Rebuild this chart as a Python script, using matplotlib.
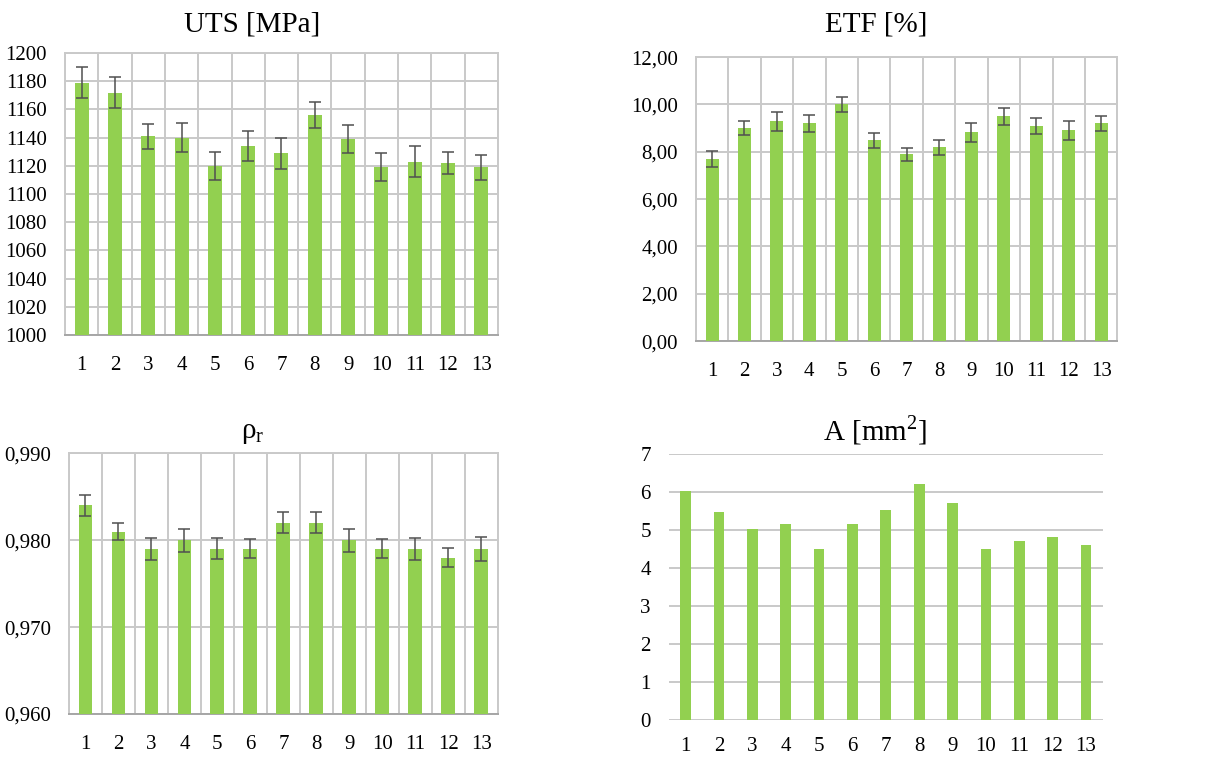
import matplotlib

matplotlib.use("Agg")
import matplotlib.pyplot as plt
import numpy as np
from matplotlib.ticker import FuncFormatter, MultipleLocator

# Sample numbers on the x axis
samples = list(range(1, 14))

# UTS [MPa] with standard deviation
uts = [1179, 1172, 1141, 1140, 1120, 1134, 1129, 1156, 1139, 1119, 1123, 1122, 1119]
uts_err = [11, 11, 9, 10.5, 10, 10.5, 11, 9, 10, 10, 11, 8, 9]

# ETF [%] with standard deviation
etf = [7.70, 9.00, 9.28, 9.20, 10.00, 8.48, 7.89, 8.18, 8.82, 9.49, 9.10, 8.90, 9.20]
etf_err = [0.33, 0.30, 0.39, 0.36, 0.32, 0.31, 0.26, 0.33, 0.39, 0.35, 0.33, 0.41, 0.33]

# relative density with standard deviation
rho = [0.984, 0.981, 0.979, 0.980, 0.979, 0.979, 0.982, 0.982, 0.980, 0.979, 0.979, 0.978, 0.979]
rho_err = [0.0012, 0.0010, 0.0013, 0.0013, 0.0012, 0.0011, 0.0012, 0.0012,
           0.0013, 0.0011, 0.0013, 0.0011, 0.0014]

# cross-section area [mm2]
area = [6.02, 5.48, 5.04, 5.17, 4.49, 5.15, 5.52, 6.20, 5.72, 4.51, 4.70, 4.81, 4.62]

BAR = "#92D050"
ERR = "#505050"
GRID = "#C9C9C9"

plt.rcParams.update({
    "font.family": ["Liberation Serif", "DejaVu Serif"],
    "font.size": 15,
    "mathtext.fontset": "custom",
    "mathtext.rm": "Liberation Serif",
    "xtick.major.size": 0,
    "ytick.major.size": 0,
    "xtick.major.pad": 15,
    "ytick.major.pad": 13,
})


def comma(dec):
    return FuncFormatter(lambda v, _: f"{v:.{dec}f}".replace(".", ","))


def boxed_panel(ax, values, errs, ylo, yhi, step, dec, width):
    ax.bar(samples, values, width=width, color=BAR, zorder=3,
           yerr=errs, error_kw=dict(ecolor=ERR, elinewidth=1.1, capsize=4.5,
                                    capthick=1.1, zorder=4))
    ax.set_xlim(0.5, 13.5)
    ax.set_ylim(ylo, yhi)
    ax.yaxis.set_major_locator(MultipleLocator(step))
    ax.yaxis.set_major_formatter(comma(dec))
    ax.set_xticks(samples)
    # category boundaries as vertical grid lines
    ax.set_xticks(np.arange(0.5, 14, 1), minor=True)
    ax.tick_params(which="minor", length=0)
    ax.grid(True, which="minor", axis="x", color=GRID, linewidth=1.4, zorder=0)
    ax.grid(True, which="major", axis="y", color=GRID, linewidth=1.4, zorder=0)
    for s in ax.spines.values():
        s.set_color(GRID)
        s.set_linewidth(1.4)
    ax.spines["bottom"].set_color("#A6A6A6")


fig = plt.figure(figsize=(12.08, 7.58), dpi=100)

ax1 = fig.add_axes([0.0538, 0.558, 0.3584, 0.372])
boxed_panel(ax1, uts, uts_err, 1000, 1200, 20, 0, 0.42)
fig.text(252 / 1208, 1 - 25 / 758, "UTS [MPa]", ha="center", va="center", fontsize=21)

ax2 = fig.add_axes([0.576, 0.550, 0.349, 0.3747])
boxed_panel(ax2, etf, etf_err, 0, 12, 2, 2, 0.40)
fig.text(876 / 1208, 1 - 25 / 758, "ETF [%]", ha="center", va="center", fontsize=21)

ax3 = fig.add_axes([0.0571, 0.058, 0.355, 0.344])
boxed_panel(ax3, rho, rho_err, 0.960, 0.990, 0.010, 3, 0.42)
fig.text(253 / 1208, 1 - 433 / 758, "ρ$_{\\mathrm{r}}$", ha="center", va="center", fontsize=21)

ax4 = fig.add_axes([0.5538, 0.050, 0.359, 0.351])
ax4.bar(samples, area, width=0.32, color=BAR, zorder=3)
ax4.set_xlim(0.5, 13.5)
ax4.set_ylim(0, 7)
ax4.set_xticks(samples)
ax4.yaxis.set_major_locator(MultipleLocator(1))
ax4.grid(True, axis="y", color=GRID, linewidth=1.4, zorder=0)
ax4.tick_params(axis="x", pad=12)
for s in ax4.spines.values():
    s.set_visible(False)
fig.text(875 / 1208, 1 - 430 / 758, "A [mm$^{\\mathrm{2}}$]", ha="center", va="center", fontsize=21)

fig.savefig("out.png", dpi=100)
